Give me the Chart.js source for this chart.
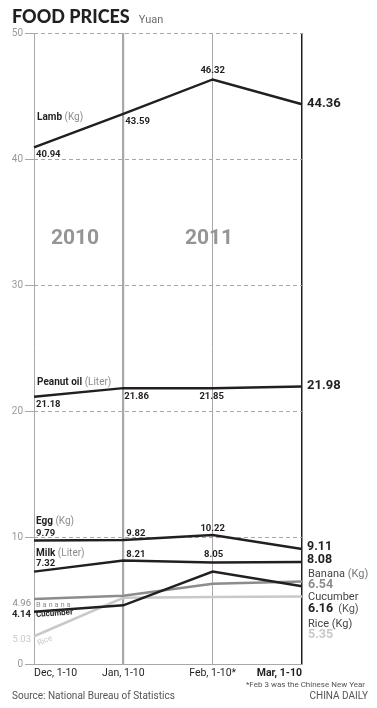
<!DOCTYPE html>
<html lang="en">
  <head>
    <meta charset="utf-8" />
    <title>Food prices</title>
    <style>
      * {
        margin: 0;
        padding: 0;
      }
      body {
        background: #fff;
      }
      .chartBox {
        width: 377px;
        height: 708px;
        position: relative;
      }
    </style>
  </head>
  <body>
    <div class="chartBox">
      <canvas id="myChart"></canvas>
    </div>

    <script src="https://cdn.jsdelivr.net/npm/chart.js"></script>

    <script>
      const periods = ["Dec, 1-10", "Jan, 1-10", "Feb, 1-10*", "Mar, 1-10"];
      const yTicks = [0, 10, 20, 30, 40, 50];

      const lamb = [40.94, 43.59, 46.32, 44.36];
      const peanutOil = [21.18, 21.86, 21.85, 21.98];
      const egg = [9.79, 9.82, 10.22, 9.11];
      const milk = [7.32, 8.21, 8.05, 8.08];
      // the lower three lines are drawn where the picture draws them
      const banana = [5.15, 5.4, 6.35, 6.54];
      const cucumber = [4.14, 4.65, 7.33, 6.16];
      const rice = [2.2, 5.25, 5.3, 5.35];
      // printed numbers at the Dec end of those lines
      const bananaDecLabel = "4.96";
      const riceDecLabel = "5.03";

      const BLACK = "#231f20";
      const GREY = "#8c8c8c";
      const LIGHT = "#c9c9c9";
      const GRID = "#a8a8a8";
      const FONT = "Roboto, 'Liberation Sans', sans-serif";

      const line = (label, values, color) => ({
        label: label,
        data: values,
        borderColor: color,
        borderWidth: 2.5,
        pointRadius: 0,
        tension: 0,
        fill: false,
      });

      // text helper
      const txt = (ctx, s, x, y, o = {}) => {
        ctx.save();
        ctx.font = `${o.weight || "normal"} ${o.size || 10}px ${o.family || FONT}`;
        ctx.fillStyle = o.color || BLACK;
        ctx.textAlign = o.align || "left";
        ctx.textBaseline = o.base || "alphabetic";
        if (o.rot) {
          ctx.translate(x, y);
          ctx.rotate(o.rot);
          ctx.fillText(s, 0, 0);
        } else {
          ctx.fillText(s, x, y);
        }
        const w = ctx.measureText(s).width;
        ctx.restore();
        return w;
      };

      // "Name (unit)" pair
      const named = (ctx, name, unit, x, y, size) => {
        const w = txt(ctx, name, x, y, { weight: "bold", size: size });
        txt(ctx, " " + unit, x + w, y, { size: size, color: "#8c8c8c" });
      };

      const labelsPlugin = {
        id: "labels",
        afterDraw(chart) {
          const ctx = chart.ctx;
          const pts = (i) => chart.getDatasetMeta(i).data;
          const fmt = (v) => v.toFixed(2);

          // title
          const tw = txt(ctx, "FOOD PRICES", 12, 23, { weight: "900", size: 18, family: "Lato, Roboto, sans-serif" });
          txt(ctx, "Yuan", 12 + tw + 9, 23, { size: 11, color: "#6d6d6d" });

          // years
          txt(ctx, "2010", 75, 239, { weight: "bold", size: 21, color: "#959595", align: "center", base: "middle" });
          txt(ctx, "2011", 209, 239, { weight: "bold", size: 21, color: "#959595", align: "center", base: "middle" });

          // lamb
          let p = pts(0);
          named(ctx, "Lamb", "(Kg)", 37, p[0].y - 27, 10);
          txt(ctx, fmt(lamb[0]), p[0].x + 2, p[0].y + 10, { weight: "bold", size: 9.5 });
          txt(ctx, fmt(lamb[1]), p[1].x + 2, p[1].y + 10, { weight: "bold", size: 9.5 });
          txt(ctx, fmt(lamb[2]), p[2].x, p[2].y - 6, { weight: "bold", size: 9.5, align: "center" });
          txt(ctx, fmt(lamb[3]), p[3].x + 5, p[3].y, { weight: "bold", size: 13, base: "middle" });

          // peanut oil
          p = pts(1);
          named(ctx, "Peanut oil", "(Liter)", 37, p[0].y - 12, 10);
          txt(ctx, fmt(peanutOil[0]), p[0].x + 2, p[0].y + 10, { weight: "bold", size: 9.5 });
          txt(ctx, fmt(peanutOil[1]), p[1].x + 1, p[1].y + 11, { weight: "bold", size: 9.5 });
          txt(ctx, fmt(peanutOil[2]), p[2].x - 1, p[2].y + 11, { weight: "bold", size: 9.5, align: "center" });
          txt(ctx, fmt(peanutOil[3]), p[3].x + 5, p[3].y - 1, { weight: "bold", size: 13, base: "middle" });

          // egg
          p = pts(2);
          named(ctx, "Egg", "(Kg)", 36, p[0].y - 16, 10);
          txt(ctx, fmt(egg[0]), p[0].x + 2, p[0].y - 4, { weight: "bold", size: 9.5 });
          txt(ctx, fmt(egg[1]), p[1].x + 3, p[1].y - 4, { weight: "bold", size: 9.5 });
          txt(ctx, fmt(egg[2]), p[2].x, p[2].y - 4, { weight: "bold", size: 9.5, align: "center" });
          txt(ctx, fmt(egg[3]), p[3].x + 5, p[3].y - 2, { weight: "bold", size: 12.5, base: "middle" });

          // milk
          p = pts(3);
          named(ctx, "Milk", "(Liter)", 36, p[0].y - 16, 10);
          txt(ctx, fmt(milk[0]), p[0].x + 2, p[0].y - 6, { weight: "bold", size: 9.5 });
          txt(ctx, fmt(milk[1]), p[1].x + 3, p[1].y - 3, { weight: "bold", size: 9.5 });
          txt(ctx, fmt(milk[2]), p[2].x + 1, p[2].y - 5, { weight: "bold", size: 9.5, align: "center" });
          txt(ctx, fmt(milk[3]), p[3].x + 5, p[3].y - 2, { weight: "bold", size: 12.5, base: "middle" });

          // banana
          p = pts(4);
          txt(ctx, bananaDecLabel, 31, 604, { size: 9.5, color: GREY, align: "right", base: "middle" });
          txt(ctx, "B a n a n a", 36, 605, { size: 7.5, color: GREY, base: "middle" });
          const bw = txt(ctx, "Banana", 308, 574, { size: 11, color: "#444", base: "middle" });
          txt(ctx, " (Kg)", 308 + bw, 574, { size: 11, color: "#777", base: "middle" });
          txt(ctx, fmt(banana[3]), 308, 585, { weight: "bold", size: 12.5, color: GREY, base: "middle" });

          // cucumber
          p = pts(5);
          const cAng = Math.atan2(p[1].y - p[0].y, p[1].x - p[0].x);
          txt(ctx, fmt(cucumber[0]), 31, 615, { weight: "bold", size: 9.5, align: "right", base: "middle" });
          txt(ctx, "Cucumber", 36, 615, { weight: "bold", size: 8, base: "middle", rot: cAng });
          txt(ctx, "Cucumber", 308, 597, { size: 11, color: "#444", base: "middle" });
          const cw = txt(ctx, fmt(cucumber[3]), 308, 609, { weight: "bold", size: 12.5, base: "middle" });
          txt(ctx, "(Kg)", 308 + cw + 5, 609, { size: 11, color: "#555", base: "middle" });

          // rice
          p = pts(6);
          const rAng = Math.atan2(p[1].y - p[0].y, p[1].x - p[0].x);
          txt(ctx, riceDecLabel, 31, 640, { size: 9.5, color: LIGHT, align: "right", base: "middle" });
          txt(ctx, "Rice", 38, 644, { size: 8, color: LIGHT, base: "middle", rot: rAng });
          txt(ctx, "Rice (Kg)", 308, 624, { size: 11, color: "#444", base: "middle" });
          txt(ctx, fmt(rice[3]), 308, 635, { weight: "bold", size: 12.5, color: LIGHT, base: "middle" });

          // notes
          txt(ctx, "*Feb 3 was the Chinese New Year", 365, 685, { size: 8, color: "#555", align: "right", base: "middle" });
          txt(ctx, "Source: National Bureau of Statistics", 12, 696, { size: 10, color: "#555", base: "middle" });
          txt(ctx, "CHINA DAILY", 368, 696, { size: 10, color: "#555", align: "right", base: "middle" });
        },
      };

      const data = {
        labels: periods,
        datasets: [
          line("Lamb", lamb, BLACK),
          line("Peanut oil", peanutOil, BLACK),
          line("Egg", egg, BLACK),
          line("Milk", milk, BLACK),
          line("Banana", banana, GREY),
          line("Cucumber", cucumber, BLACK),
          line("Rice", rice, LIGHT),
        ],
      };
      // rice and banana sit under the black cucumber line
      data.datasets[4].order = 2;
      data.datasets[6].order = 3;

      const config = {
        type: "line",
        data: data,
        options: {
          responsive: true,
          maintainAspectRatio: false,
          animation: false,
          layout: { padding: { top: 33, right: 75, left: 0, bottom: 0 } },
          plugins: {
            legend: { display: false },
            tooltip: { enabled: false },
          },
          scales: {
            x: {
              offset: false,
              afterFit: (s) => {
                s.height = 44;
              },
              grid: {
                drawTicks: false,
                color: (c) => (c.index === 3 ? BLACK : GRID),
                lineWidth: (c) => (c.index === 1 ? 2.2 : c.index === 3 ? 1.5 : 1),
              },
              border: { display: true, color: GRID, width: 1 },
              ticks: {
                align: "inner",
                autoSkip: false,
                maxRotation: 0,
                padding: 3,
                color: BLACK,
                font: (c) => ({
                  family: FONT,
                  size: 10.5,
                  weight: c.index === 3 ? "bold" : "normal",
                }),
              },
            },
            y: {
              min: 0,
              max: 50,
              afterFit: (s) => {
                s.width = 34;
              },
              afterBuildTicks: (s) => {
                s.ticks = yTicks.map((v) => ({ value: v }));
              },
              grid: {
                color: GRID,
                lineWidth: 1,
                tickLength: 9,
                tickColor: GRID,
              },
              border: { display: false, dash: [4, 3] },
              ticks: {
                padding: 2,
                color: "#9a9a9a",
                font: { family: FONT, size: 10 },
              },
            },
          },
        },
        plugins: [labelsPlugin],
      };

      const myChart = new Chart(document.getElementById("myChart"), config);
    </script>
  </body>
</html>
